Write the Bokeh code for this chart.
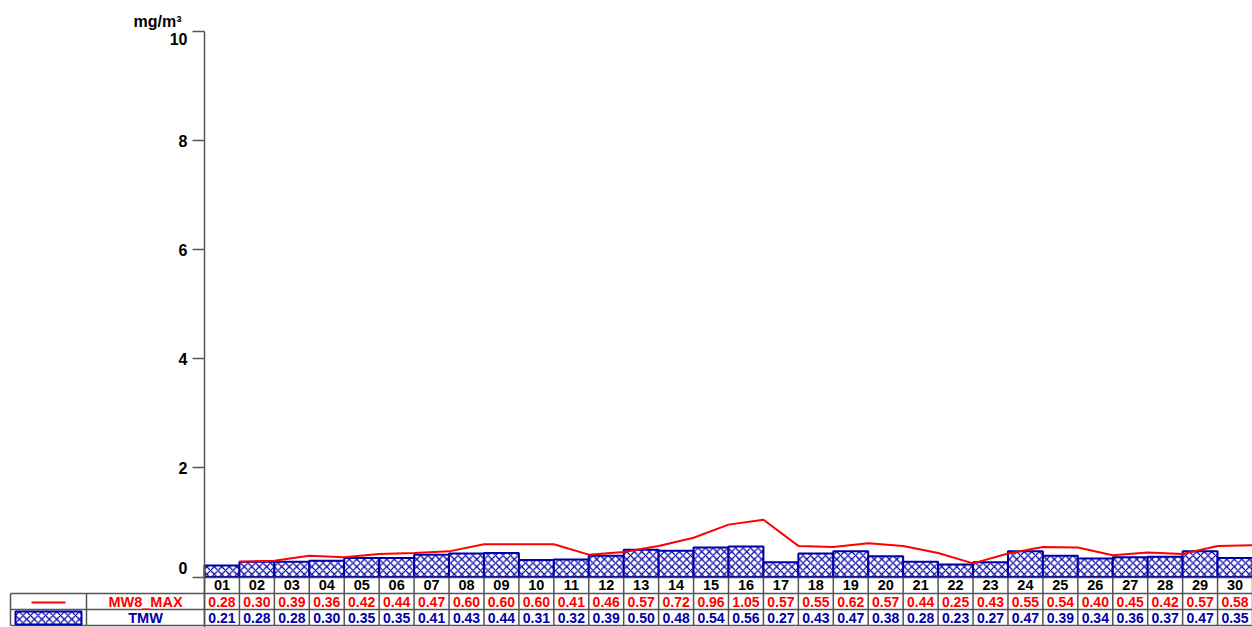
from bokeh.plotting import figure
from bokeh.models import Range1d, LinearAxis, FixedTicker
from bokeh.core.properties import value
from bokeh.embed import file_html
from bokeh.resources import INLINE

# ---------------- data ----------------
days = [f"{i:02d}" for i in range(1, 31)]
mw8_max = [0.28, 0.30, 0.39, 0.36, 0.42, 0.44, 0.47, 0.60, 0.60, 0.60,
           0.41, 0.46, 0.57, 0.72, 0.96, 1.05, 0.57, 0.55, 0.62, 0.57,
           0.44, 0.25, 0.43, 0.55, 0.54, 0.40, 0.45, 0.42, 0.57, 0.58]
tmw = [0.21, 0.28, 0.28, 0.30, 0.35, 0.35, 0.41, 0.43, 0.44, 0.31,
       0.32, 0.39, 0.50, 0.48, 0.54, 0.56, 0.27, 0.43, 0.47, 0.38,
       0.28, 0.23, 0.27, 0.47, 0.39, 0.34, 0.36, 0.37, 0.47, 0.35]
y_ticks = [0, 2, 4, 6, 8, 10]
unit_label = "mg/m³"
series_names = ["MW8_MAX", "TMW"]

# ---------------- styling / layout ----------------
RED = "#FF0000"
BLUE = "#0000A8"
GRID = "#555555"
FONT = "Liberation Sans"

W, H = 1252, 627
OX, OY = 0, 0            # page offset of the canvas
X0, X1 = 204, 1252       # page x of day 01 left edge / day 30 right edge
Y0, YS = 576.5, 54.55    # page y of value 0, pixels per unit
n = len(days)
cw = (X1 - X0) / n


def dx(px):
    return (px - X0) / cw


def dy(py):
    return (Y0 - py) / YS


p = figure(width=W, height=H, output_backend="svg", toolbar_location=None,
           x_range=Range1d(dx(OX), dx(OX + W)),
           y_range=Range1d(dy(OY + H), dy(OY)),
           x_axis_location=None, y_axis_location=None,
           min_border=0, outline_line_color=None, background_fill_color="white")
p.grid.visible = False

# y axis at x = 0
yax = LinearAxis(ticker=FixedTicker(ticks=y_ticks), fixed_location=0,
                 bounds=(dy(OY + H), y_ticks[-1]),
                 major_label_overrides={y_ticks[0]: "", y_ticks[-1]: ""},
                 major_tick_out=12, major_tick_in=0, minor_tick_out=0, minor_tick_in=0,
                 major_label_standoff=5,
                 axis_line_color=GRID, axis_line_width=1.5,
                 major_tick_line_color=GRID, major_tick_line_width=1.5,
                 major_label_text_font=FONT, major_label_text_font_style="bold",
                 major_label_text_font_size="16px", major_label_text_color="black")
p.add_layout(yax, "left")

# day axis at y = 0
xax = LinearAxis(ticker=FixedTicker(ticks=[i + 0.5 for i in range(n)]), fixed_location=0,
                 bounds=(0, n),
                 major_label_overrides={i + 0.5: d for i, d in enumerate(days)},
                 major_tick_out=0, major_tick_in=0, minor_tick_out=0, minor_tick_in=0,
                 major_label_standoff=3,
                 axis_line_color="#444444", axis_line_width=1.5,
                 major_label_text_font=FONT, major_label_text_font_style="bold",
                 major_label_text_font_size="14.5px", major_label_text_color="black")
p.add_layout(xax, "below")

# bars
hatch = dict(fill_color="white", line_color=BLUE, line_width=2,
             hatch_pattern="diagonal_cross", hatch_color=BLUE, hatch_scale=7.5, hatch_weight=1.2)
p.vbar(x=[i + 0.5 for i in range(n)], width=1, bottom=0, top=tmw, **hatch)

# line: vertices at right edge of each day
p.line(x=[i + 1 for i in range(n)], y=mw8_max, line_color=RED, line_width=2)

# end tick labels shifted like the reference
p.text(x=[0, 0], y=[y_ticks[0], y_ticks[-1]], text=[str(y_ticks[0]), str(y_ticks[-1])],
       x_offset=-17, y_offset=[-9.5, 7.5], text_align="right", text_baseline="middle",
       text_font=value(FONT), text_font_style="bold", text_font_size="16px", text_color="black")

# unit label
p.text(x=[dx(181)], y=[dy(21)], text=[unit_label], text_align="right", text_baseline="middle",
       text_font=value(FONT), text_font_style="bold", text_font_size="16px", text_color="black")

# ---------------- table ----------------
ROW_TOP, ROW1, ROW2, ROW3 = 577, 593, 609, 625
TL, TM = 10, 86
hx0 = [dx(TL)] * 3
hx1 = [dx(X1 + 5)] * 3
hy = [dy(ROW1), dy(ROW2), dy(ROW3)]
p.segment(x0=hx0, y0=hy, x1=hx1, y1=hy, line_color=GRID, line_width=1.5)
vx = [dx(TL), dx(TM)] + [float(k) for k in range(n + 1)]
vy0 = [dy(ROW1), dy(ROW1)] + [dy(ROW_TOP)] * (n + 1)
vy1 = [dy(ROW3)] * len(vx)
p.segment(x0=vx, y0=vy0, x1=vx, y1=vy1, line_color=GRID, line_width=1.5)

# legend icons
p.line(x=[dx(31), dx(65)], y=[dy(602), dy(602)], line_color=RED, line_width=2)
p.quad(left=[dx(15)], right=[dx(81)], bottom=[dy(624)], top=[dy(611)], **hatch)

# series names
p.text(x=[dx(145), dx(145)], y=[dy(601), dy(617)], text=series_names,
       text_color=[RED, BLUE], text_align="center", text_baseline="middle",
       text_font=value(FONT), text_font_style="bold", text_font_size="14.5px")

# values
cx = [i + 0.5 for i in range(n)]
p.text(x=cx, y=[dy(601)] * n, text=[f"{v:.2f}" for v in mw8_max], text_color=RED,
       text_align="center", text_baseline="middle",
       text_font=value(FONT), text_font_style="bold", text_font_size="14px")
p.text(x=cx, y=[dy(617)] * n, text=[f"{v:.2f}" for v in tmw], text_color=BLUE,
       text_align="center", text_baseline="middle",
       text_font=value(FONT), text_font_style="bold", text_font_size="14px")

open("out.html", "w").write(file_html(p, INLINE))
